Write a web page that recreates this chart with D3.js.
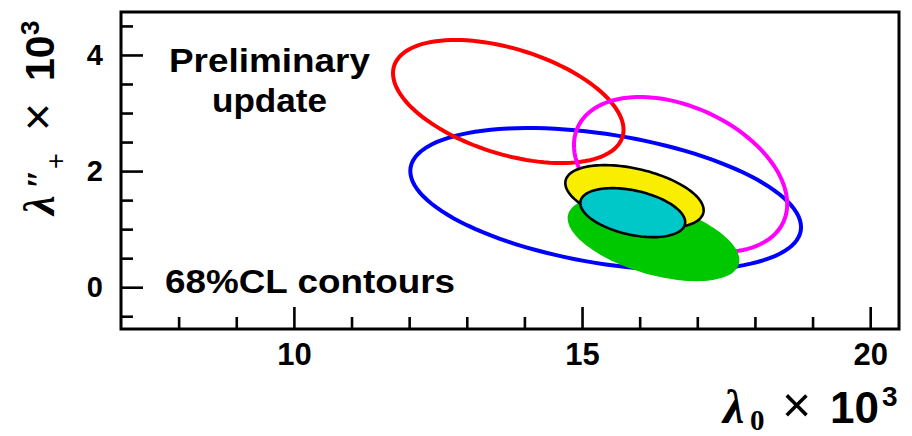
<!DOCTYPE html>
<html>
<head>
<meta charset="utf-8">
<script src="https://cdn.jsdelivr.net/npm/d3@7"></script>
<style>
  body { margin: 0; background: #fff; }
  svg { display: block; }
  .tick text { font-family: "Liberation Sans", Arial, sans-serif; font-weight: bold; fill: #000; }
</style>
</head>
<body>
<div id="chart"></div>
<script>
// contour ellipses: centre, half widths and correlation (units x 10^3)
var names = ["blue", "red", "magenta", "green", "yellow", "cyan"];
var centreX = [15.41, 13.72, 16.71, 16.24, 15.91, 15.88];
var centreY = [1.517, 3.198, 1.94, 0.828, 1.56, 1.284];
var halfX = [3.39, 2.0, 1.85, 1.49, 1.20, 0.91];
var halfY = [1.224, 1.06, 1.336, 0.724, 0.543, 0.422];
var corr = [-0.395, -0.46, -0.38, -0.5, -0.43, -0.39];
var strokes = ["#0000ff", "#ff0000", "#ff00ff", "none", "#000000", "#000000"];
var fills = ["none", "none", "none", "#00c800", "#f9ee00", "#00c8c8"];

var xMajor = [10, 15, 20];
var xMinor = [8, 9, 11, 12, 13, 14, 16, 17, 18, 19];
var yMajor = [0, 2, 4];
var yMinor = [-0.5, 0.5, 1, 1.5, 2.5, 3, 3.5, 4.5];

var W = 912, H = 436;
var x = d3.scaleLinear().domain([7, 20.5]).range([121, 899]);
var y = d3.scaleLinear().domain([-0.72, 4.74]).range([329, 12]);

var svg = d3.select("#chart").append("svg")
    .attr("width", W)
    .attr("height", H);

svg.append("rect").attr("width", W).attr("height", H).attr("fill", "#fff");

// ellipse outline points from centre / widths / correlation
function ellipse(i) {
  var pts = [];
  var s = Math.sqrt(1 - corr[i] * corr[i]);
  for (var k = 0; k < 120; k++) {
    var t = 2 * Math.PI * k / 120;
    pts.push([centreX[i] + halfX[i] * Math.cos(t),
              centreY[i] + halfY[i] * (corr[i] * Math.cos(t) + s * Math.sin(t))]);
  }
  return pts;
}

var line = d3.line()
    .x(function(d) { return x(d[0]); })
    .y(function(d) { return y(d[1]); })
    .curve(d3.curveLinearClosed);

svg.append("g").attr("id", "contours")
  .selectAll("path")
  .data(names)
  .enter()
  .append("path")
    .attr("d", function(d, i) { return line(ellipse(i)); })
    .attr("fill", function(d, i) { return fills[i]; })
    .attr("stroke", function(d, i) { return strokes[i]; })
    .attr("stroke-width", function(d, i) { return fills[i] === "none" ? 4 : 2.6; });

// axes: minor ticks first, then major with labels
function styleAxis(g) {
  g.select(".domain").remove();
  g.selectAll(".tick line").attr("stroke", "#000").attr("stroke-width", 2.6);
}

svg.append("g")
    .attr("transform", "translate(0,329)")
    .call(d3.axisBottom(x).tickValues(xMinor).tickSize(-12).tickFormat(""))
    .call(styleAxis);
svg.append("g")
    .attr("transform", "translate(0,329)")
    .call(d3.axisBottom(x).tickValues(xMajor).tickSize(-22).tickPadding(14).tickFormat(d3.format("d")))
    .call(styleAxis)
    .selectAll("text").style("font-size", "31px");

svg.append("g")
    .attr("transform", "translate(121,0)")
    .call(d3.axisLeft(y).tickValues(yMinor).tickSize(-12).tickFormat(""))
    .call(styleAxis);
svg.append("g")
    .attr("transform", "translate(121,0)")
    .call(d3.axisLeft(y).tickValues(yMajor).tickSize(-22).tickPadding(18).tickFormat(d3.format("d")))
    .call(styleAxis)
    .selectAll("text").style("font-size", "29px");

// frame
svg.append("rect")
    .attr("x", 121).attr("y", 12)
    .attr("width", 899 - 121).attr("height", 329 - 12)
    .attr("fill", "none")
    .attr("stroke", "#000")
    .attr("stroke-width", 3);

// annotations
var sans = '"Liberation Sans", Arial, sans-serif';
var serif = '"Liberation Serif", "Times New Roman", serif';
var notes = svg.append("g")
    .style("font-family", sans)
    .style("font-weight", "bold")
    .style("font-size", "34px");
notes.append("text").attr("x", 169).attr("y", 72)
    .attr("textLength", 201).attr("lengthAdjust", "spacingAndGlyphs").text("Preliminary");
notes.append("text").attr("x", 212).attr("y", 112)
    .attr("textLength", 115).attr("lengthAdjust", "spacingAndGlyphs").text("update");
notes.append("text").attr("x", 165).attr("y", 293)
    .attr("textLength", 290).attr("lengthAdjust", "spacingAndGlyphs").text("68%CL contours");

// x axis title, pieces placed along the baseline
var xt = svg.append("g").style("font-family", sans).style("font-weight", "bold");
xt.append("text").attr("x", 723).attr("y", 423)
    .style("font-family", serif).style("font-style", "italic").style("font-size", "48px").text("λ");
xt.append("text").attr("x", 750).attr("y", 430)
    .style("font-family", serif).style("font-size", "29px").text("0");
xt.append("text").attr("x", 782).attr("y", 422)
    .style("font-weight", "normal").style("font-size", "50px").text("×");
xt.append("text").attr("x", 830).attr("y", 423).style("font-size", "44px").text("10");
xt.append("text").attr("x", 882).attr("y", 406).style("font-size", "28px").text("3");

// y axis title, rotated
var yt = svg.append("g")
    .attr("transform", "translate(54,0) rotate(-90)")
    .style("font-family", sans)
    .style("font-weight", "bold");
yt.append("text").attr("x", -215).attr("y", 0)
    .style("font-family", serif).style("font-style", "italic").style("font-size", "44px").text("λ");
yt.append("text").attr("x", -189).attr("y", -2)
    .style("font-family", serif).style("font-style", "italic").style("font-size", "36px").text("″");
yt.append("text").attr("x", -169).attr("y", 11)
    .style("font-weight", "normal").style("font-size", "27px").text("+");
yt.append("text").attr("x", -131).attr("y", 0)
    .style("font-weight", "normal").style("font-size", "48px").text("×");
yt.append("text").attr("x", -81).attr("y", 0).style("font-size", "41px").text("10");
yt.append("text").attr("x", -35).attr("y", -15).style("font-size", "26px").text("3");
</script>
</body>
</html>
